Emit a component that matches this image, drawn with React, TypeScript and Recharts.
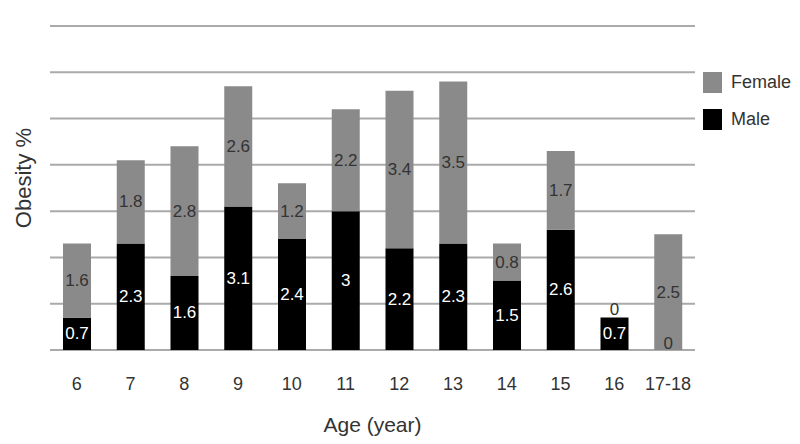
import React from "react";
import { BarChart, Bar, XAxis, YAxis, CartesianGrid, LabelList, Label } from "recharts";

const AGES = ["6", "7", "8", "9", "10", "11", "12", "13", "14", "15", "16", "17-18"];
const MALE = [0.7, 2.3, 1.6, 3.1, 2.4, 3, 2.2, 2.3, 1.5, 2.6, 0.7, 0];
const FEMALE = [1.6, 1.8, 2.8, 2.6, 1.2, 2.2, 3.4, 3.5, 0.8, 1.7, 0, 2.5];
const Y_TICKS = [0, 1, 2, 3, 4, 5, 6, 7];

const data = AGES.map((age, i) => ({ age, male: MALE[i], female: FEMALE[i] }));

const FONT = "'Liberation Sans', Arial, sans-serif";
const GRAY = "#8a8a8a";
const TEXT = "#333";

const LEGEND_ITEMS = [
  { label: "Female", color: GRAY },
  { label: "Male", color: "#000" },
];

// label gets the age as value; "other" = stacked partner series. A 0 segment
// draws no bar, so its "0" is drawn by the partner's label instead.
const makeLabel = (color: string, own: number[], other: number[], otherAbove: boolean) => (props: any) => {
  const { x, y, width, height, value } = props;
  const i = AGES.indexOf(String(value));
  const cx = Number(x) + Number(width) / 2;
  const top = Number(y);
  const bottom = Number(y) + Number(height);
  return (
    <g>
      {own[i] !== 0 && (
        <text
          x={cx}
          y={top + Number(height) / 2}
          textAnchor="middle"
          dominantBaseline="central"
          fontSize={17}
          fill={color}
          fontFamily={FONT}
        >
          {own[i]}
        </text>
      )}
      {other[i] === 0 && (
        <text
          x={cx}
          y={otherAbove ? top - 3 : bottom - 1}
          textAnchor="middle"
          fontSize={17}
          fill={TEXT}
          fontFamily={FONT}
        >
          0
        </text>
      )}
    </g>
  );
};

export default function App() {
  return (
    <div style={{ position: "absolute", left: 0, top: 0, width: 800, height: 444, background: "#fff" }}>
      <BarChart width={800} height={444} data={data} margin={{ top: 26, right: 105, bottom: 0, left: 0 }}>
        <CartesianGrid vertical={false} stroke="#aaa" strokeWidth={2} />
        <XAxis
          dataKey="age"
          height={94}
          axisLine={false}
          tickLine={false}
          tickSize={0}
          tickMargin={27}
          tick={{ fontSize: 18, fill: TEXT, fontFamily: FONT }}
        >
          <Label value="Age (year)" position="insideBottom" offset={12} fontSize={21} fill={TEXT} fontFamily={FONT} />
        </XAxis>
        <YAxis
          width={50}
          domain={[0, 7]}
          ticks={Y_TICKS}
          tickFormatter={() => ""}
          axisLine={false}
          tickLine={false}
        >
          <Label value="Obesity %" angle={-90} position="center" dy={-10} dx={-2} fontSize={22} fill={TEXT} fontFamily={FONT} />
        </YAxis>
        <Bar dataKey="male" stackId="a" fill="#000" barSize={28} isAnimationActive={false}>
          <LabelList dataKey={(d: any) => d.age} content={makeLabel("#fff", MALE, FEMALE, true)} />
        </Bar>
        <Bar dataKey="female" stackId="a" fill={GRAY} barSize={28} isAnimationActive={false}>
          <LabelList dataKey={(d: any) => d.age} content={makeLabel(TEXT, FEMALE, MALE, false)} />
        </Bar>
      </BarChart>
      <div style={{ position: "absolute", left: 703, top: 64, fontFamily: FONT, fontSize: 18, color: TEXT }}>
        {LEGEND_ITEMS.map((it) => (
          <div key={it.label} style={{ display: "flex", alignItems: "center", height: 37 }}>
            <span style={{ display: "inline-block", width: 19, height: 21, background: it.color, marginRight: 9 }} />
            {it.label}
          </div>
        ))}
      </div>
    </div>
  );
}
